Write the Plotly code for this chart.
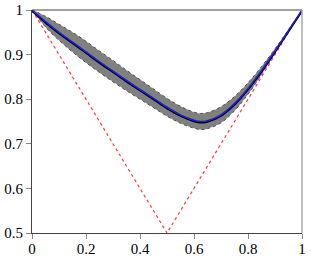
import plotly.graph_objects as go

x_vals = [0.0, 0.05, 0.1, 0.15, 0.2, 0.25, 0.3, 0.35, 0.4, 0.45, 0.5, 0.55, 0.6, 0.625, 0.65, 0.7, 0.75, 0.8, 0.85, 0.9, 0.95, 1.0]
mean_vals = [1.0, 0.974, 0.950, 0.928, 0.906, 0.884, 0.863, 0.842, 0.822, 0.802, 0.782, 0.765, 0.753, 0.750, 0.752, 0.765, 0.790, 0.824, 0.864, 0.908, 0.954, 1.0]
half_width = [0.0, 0.012, 0.018, 0.022, 0.024, 0.024, 0.024, 0.023, 0.022, 0.021, 0.020, 0.019, 0.018, 0.018, 0.018, 0.018, 0.016, 0.013, 0.009, 0.005, 0.002, 0.0]
bound_x = [0.0, 0.5, 1.0]
bound_y = [1.0, 0.5, 1.0]

upper = [m + h for m, h in zip(mean_vals, half_width)]
lower = [m - h for m, h in zip(mean_vals, half_width)]

fig = go.Figure()
fig.add_trace(go.Scatter(x=x_vals, y=lower, mode="lines",
                         line=dict(color="#505050", width=1, dash="dot", shape="spline"),
                         showlegend=False, hoverinfo="skip"))
fig.add_trace(go.Scatter(x=x_vals, y=upper, mode="lines", fill="tonexty",
                         fillcolor="#808080",
                         line=dict(color="#505050", width=1, dash="dot", shape="spline"),
                         showlegend=False, hoverinfo="skip"))
fig.add_trace(go.Scatter(x=bound_x, y=bound_y, mode="lines",
                         line=dict(color="#ff3b3b", width=1.2, dash="3px,3px"),
                         showlegend=False))
fig.add_trace(go.Scatter(x=x_vals, y=[m - 0.003 for m in mean_vals], mode="lines",
                         line=dict(color="black", width=1.5, shape="spline"),
                         showlegend=False))
fig.add_trace(go.Scatter(x=x_vals, y=mean_vals, mode="lines",
                         line=dict(color="#1a1ae0", width=1.5, shape="spline"),
                         showlegend=False))

axis_font = dict(family="Liberation Serif, Times New Roman, serif", size=15, color="black")
fig.update_xaxes(range=[0, 1], tickvals=[0, 0.2, 0.4, 0.6, 0.8, 1],
                 ticktext=["0", "0.2", "0.4", "0.6", "0.8", "1"], automargin=False,
                 showgrid=False, zeroline=False, showline=True, linecolor="#444444",
                 linewidth=1, mirror=False, ticks="outside", ticklen=5, tickcolor="#888888",
                 ticklabelstandoff=-3, tickfont=axis_font)
fig.update_yaxes(range=[0.5, 1], tickvals=[0.5, 0.6, 0.7, 0.8, 0.9, 1],
                 ticktext=["0.5", "0.6", "0.7", "0.8", "0.9", "1"], automargin=False,
                 showgrid=False, zeroline=False, showline=True, linecolor="#444444",
                 linewidth=1, mirror=False, ticks="outside", ticklen=5, tickcolor="#888888",
                 tickfont=axis_font)
fig.add_shape(type="line", xref="paper", yref="paper", x0=0, x1=1, y0=1, y1=1,
              line=dict(color="#444444", width=1))
fig.add_shape(type="line", xref="paper", yref="paper", x0=1, x1=1, y0=0, y1=1,
              line=dict(color="#aaaaaa", width=1.5))
fig.update_layout(template="none", width=311, height=259,
                  margin=dict(l=32, r=9, t=10, b=26, pad=0),
                  font=axis_font, plot_bgcolor="white", paper_bgcolor="white")
fig.write_html("out.html", config={"displayModeBar": False, "staticPlot": True},
               post_script="document.body.style.margin='0';document.body.style.overflow='hidden';")
